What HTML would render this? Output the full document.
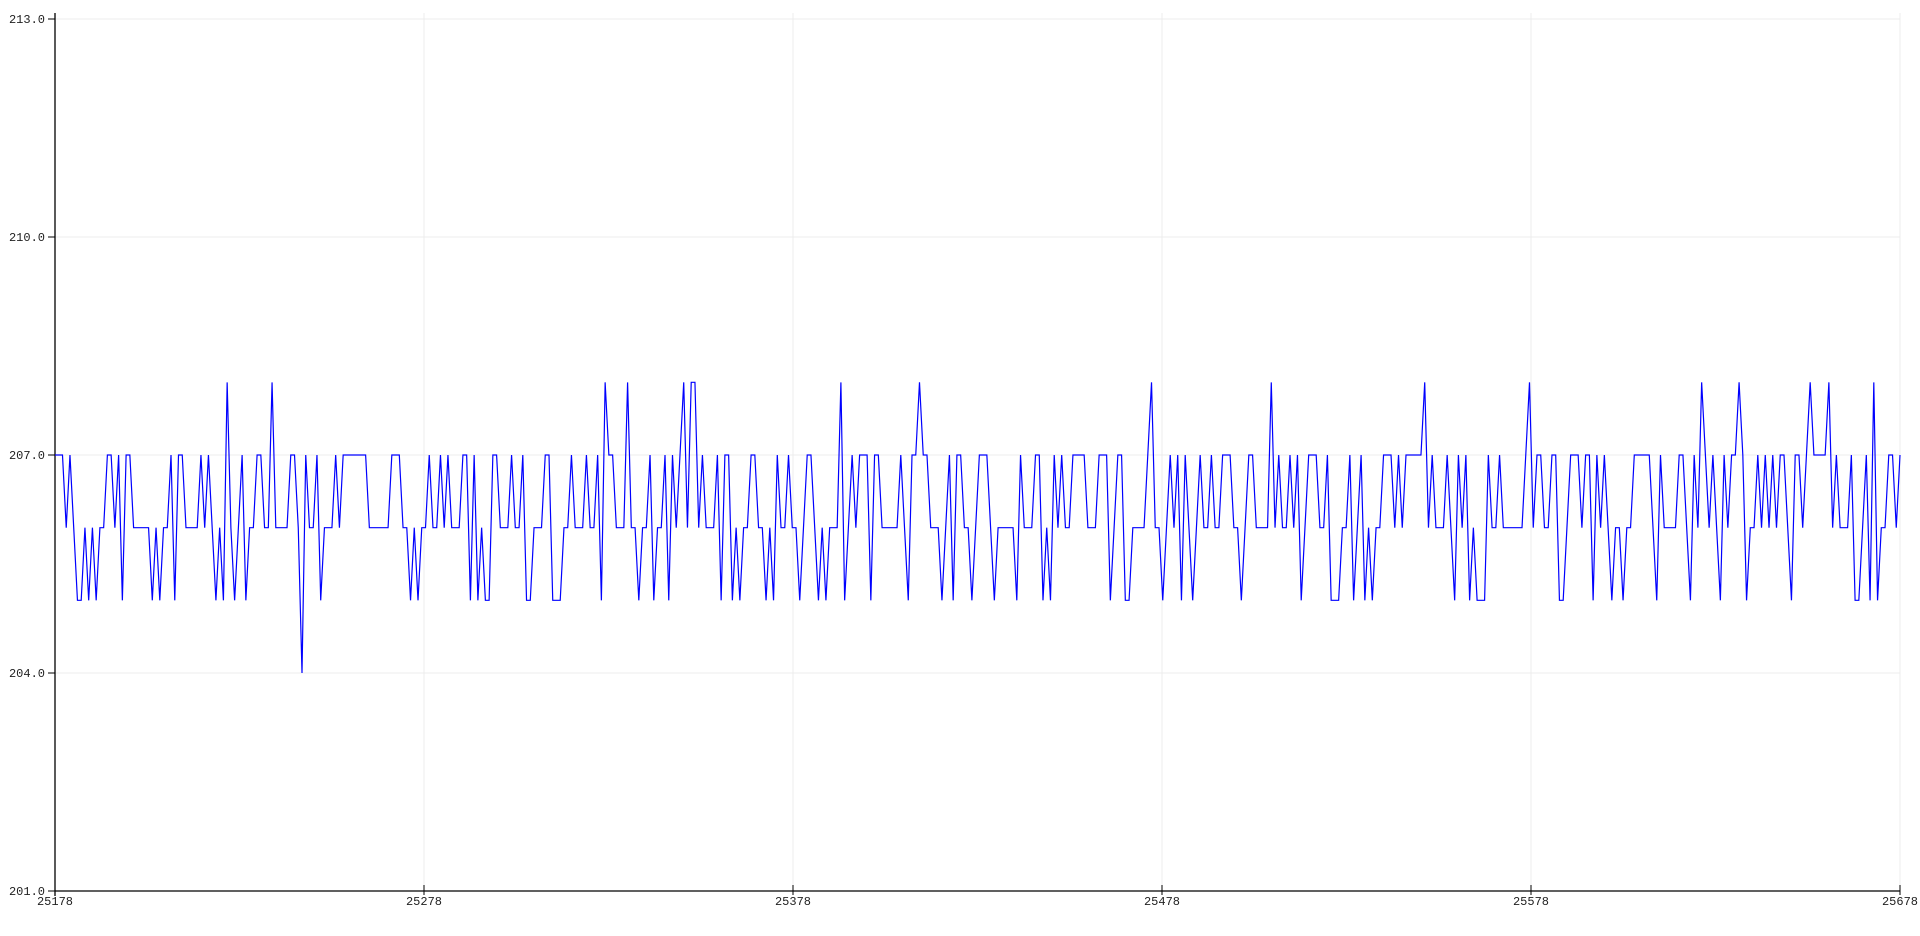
<!DOCTYPE html>
<html><head><meta charset="utf-8"><style>
html,body{margin:0;padding:0;background:#fff;width:1920px;height:936px;overflow:hidden}
svg text{font-family:"Liberation Mono",monospace;font-size:12px;fill:#222}
</style></head><body>
<svg id="chart" width="1920" height="936" xmlns="http://www.w3.org/2000/svg">
<g id="grid"></g>
<g id="axes"></g>
<g id="series"></g>
</svg>
<script>
const yTicks = [201, 204, 207, 210, 213];
const xTicks = [25178, 25278, 25378, 25478, 25578, 25678];
const xStart = 25178;
const xEnd = 25678;
const seg1 = [207,207,207,206,207,206,205,205,206,205,206,205,206,206,207,207,206,207,205,207,207,206,206,206,206,206,205,206,205,206,206,207,205,207,207,206,206,206,206,207,206,207,206,205,206,205,208,206,205,206,207,205,206,206,207,207,206,206,208,206,206,206,206,207,207,206,204,207,206,206,207,205,206,206,206,207,206,207,207,207,207,207];
const seg2 = [207,207,206,206,206,206,206,206,207,207,207,206,206,205,206,205,206,206,207,206,206,207,206,207,206,206,206,207,207,205,207,205,206,205,205,207,207,206,206,206,207,206,206,207,205,205,206,206,206,207,207,205,205,205,206,206,207,206,206,206,207,206,206,207,205,208,207,207,206,206,206,208,206,206,205,206,206,207,205,206,206,207,205,207,206,207,208,206,208,208,206,207,206,206,206,207,205];
const seg3 = [207,207,205,206,205,206,206,207,207,206,206,205,206,205,207,206,206,207,206,206,205,206,207,207,206,205,206,205,206,206,206,208,205,206,207,206,207,207,207,205,207,207,206,206,206,206,206,207,206,205,207,207,208,207,207,206,206,206,205,206,207,205,207,207,206,206,205,206,207,207,207,206,205,206,206,206,206,206,205,207,206,206,206,207,207,205,206,205,207,206,207,206,206,207,207,207,207,206,206,206,207];
const seg4 = [207,207,205,206,207,207,205,205,206,206,206,206,207,208,206,206,205,206,207,206,207,205,207,206,205,206,207,206,206,207,206,206,207,207,207,206,206,205,206,207,207,206,206,206,206,208,206,207,206,206,207,206,207,205,206,207,207,207,206,206,207,205,205,205,206,206,207,205,206,207,205,206,205,206,206,207,207,207,206,207,206,207,207,207,207,207,208,206,207,206,206,206,207,206,205,207,206,207,205,206,205];
const seg5 = [205,205,207,206,206,207,206,206,206,206,206,206,207,208,206,207,207,206,206,207,207,205,205,206,207,207,207,206,207,207,205,207,206,207,206,205,206,206,205,206,206,207,207,207,207,207,206,205,207,206,206,206,206,207,207,206,205,207,206,208,207,206,207,206,205,207,206,207,207,208,207,205,206,206,207,206,207,206,207,206,207,207,206,205,207,207,206,207,208,207,207,207,207,208,206,207,206,206,206,207,205,205,206,207,205,208,205,206,206,207,207,206,207];
const values = [].concat(seg1, seg2, seg3, seg4, seg5);

const L = 55, R = 1900, T = 19, B = 891;
const yMin = 201, yMax = 213;
const xs = v => L + (v - xStart) / (xEnd - xStart) * (R - L);
const ys = v => B - (v - yMin) / (yMax - yMin) * (B - T);
const NS = 'http://www.w3.org/2000/svg';
function mk(tag, attrs, parent) {
  const e = document.createElementNS(NS, tag);
  for (const k in attrs) e.setAttribute(k, attrs[k]);
  parent.appendChild(e);
  return e;
}
const grid = document.getElementById('grid');
const axes = document.getElementById('axes');
const series = document.getElementById('series');

yTicks.forEach(t => {
  const y = ys(t);
  if (t !== yMin) {
    const g = mk('line', {x1: L, x2: R, y1: y, y2: y, stroke: '#ececec', 'stroke-width': 1}, grid);
    
    
  }
  const tk = mk('line', {x1: L - 7, x2: L, y1: y, y2: y, stroke: '#000', 'stroke-width': 1}, axes);
  
  
  const lb = mk('text', {x: L - 10, y: y + 4, 'text-anchor': 'end'}, axes);
  lb.textContent = t.toFixed(1);
  
  
});
xTicks.forEach(t => {
  const x = xs(t);
  if (t !== xStart) {
    const g = mk('line', {x1: x, x2: x, y1: 13, y2: B, stroke: '#ececec', 'stroke-width': 1}, grid);
    
    
  }
  const tk = mk('line', {x1: x, x2: x, y1: B - 6, y2: B + 4, stroke: '#000', 'stroke-width': 1}, axes);
  
  
  const lb = mk('text', {x: x, y: B + 14, 'text-anchor': 'middle'}, axes);
  lb.textContent = String(t);
  
  
});
const ya = mk('line', {x1: L, x2: L, y1: 13, y2: B + 5, stroke: '#000', 'stroke-width': 1.3}, axes);


const xa = mk('line', {x1: L, x2: R, y1: B, y2: B, stroke: '#000', 'stroke-width': 1.3}, axes);



const n = values.length;
const pts = values.map((v, i) => {
  const xv = xStart + i * (xEnd - xStart) / (n - 1);
  return xs(xv).toFixed(2) + ',' + ys(v).toFixed(2);
}).join(' ');
const pl = mk('polyline', {points: pts, fill: 'none', stroke: '#0000ff', 'stroke-width': 1.2, 'stroke-linejoin': 'miter'}, series);


</script>
</body></html>
